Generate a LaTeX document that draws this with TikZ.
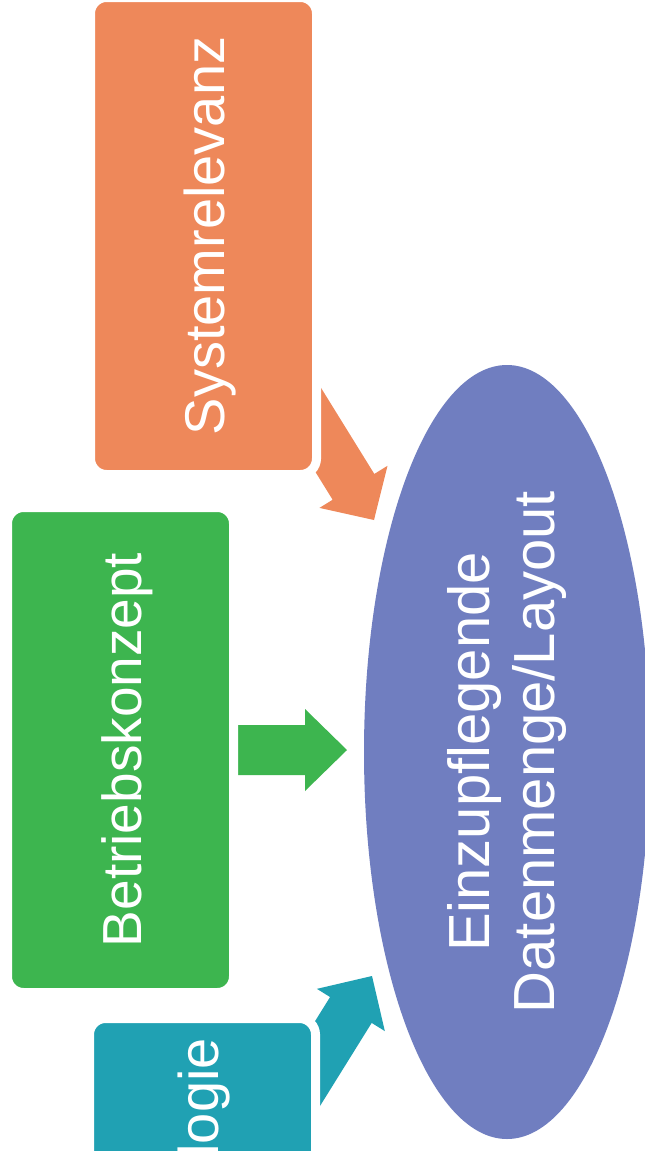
\documentclass[tikz,border=0pt]{standalone}
\usepackage{fontspec}
\setmainfont{Liberation Sans}
\usetikzlibrary{calc,shapes.geometric}

\definecolor{sysorange}{RGB}{238,136,90}
\definecolor{opgreen}{RGB}{61,181,79}
\definecolor{techteal}{RGB}{32,161,179}
\definecolor{datablue}{RGB}{112,126,192}

% Block arrow from tail #1 to tip #2:
% #3 body half width, #4 head half width, #5 head length, #6 colour
\newcommand\blockarrow[6]{%
  \coordinate (hb) at ($(#2)!#5!(#1)$);
  \fill[#6] ($(#1)!#3!90:(#2)$) -- ($(hb)!#3!90:(#2)$) -- ($(hb)!#4!90:(#2)$)
    -- (#2) -- ($(hb)!#4!-90:(#2)$) -- ($(hb)!#3!-90:(#2)$)
    -- ($(#1)!#3!-90:(#2)$) -- cycle;
}

\begin{document}
\begin{tikzpicture}[x=1pt,y=-1pt,
  card/.style={rectangle, rounded corners=16pt, draw=white, line width=9pt,
    rotate=90, text=white, inner sep=0pt, text height=41pt, text depth=0pt},
  bubble/.style={ellipse, fill=datablue, rotate=90, inner sep=0pt,
    text=white, align=center}]
\useasboundingbox (0,0) rectangle (645,1151);
\clip (0,0) rectangle (645,1151);
\fill[white] (0,0) rectangle (645,1151);

% arrow ends: tails sit under the cards, tips point at the ellipse
\coordinate (sysTail) at (270,352);
\coordinate (sysTip)  at (374,520);
\coordinate (opTail)  at (200,750);
\coordinate (opTip)   at (347,750);
\coordinate (tecTail) at (270,1140);
\coordinate (tecTip)  at (372,976);

\blockarrow{sysTail}{sysTip}{24.5pt}{40pt}{39pt}{sysorange}
\blockarrow{opTail}{opTip}{25pt}{41pt}{42pt}{opgreen}
\blockarrow{tecTail}{tecTip}{24.5pt}{40pt}{40pt}{techteal}

% cards
\node[card, fill=sysorange, minimum width=477pt, minimum height=226pt,
  font=\fontsize{56}{67}\selectfont] (sys) at (203.5,236) {Systemrelevanz};
\node[card, fill=opgreen, minimum width=485pt, minimum height=226pt,
  font=\fontsize{55}{66}\selectfont] (op) at (120.5,750) {Betriebskonzept};
\node[card, fill=techteal, minimum width=477pt, minimum height=226pt]
  (tec) at (202.5,1257) {};
\node[rotate=90, anchor=east, inner sep=0pt, text=white, text height=41pt,
  text depth=0pt, font=\fontsize{56}{67}\selectfont] (tecT) at (197.5,1038) {logie};

% target
\node[bubble, minimum width=774pt, minimum height=286pt,
  font=\fontsize{58}{65}\selectfont] (data) at (507,752)
  {Einzupflegende\\Datenmenge/Layout};
\end{tikzpicture}
\end{document}
